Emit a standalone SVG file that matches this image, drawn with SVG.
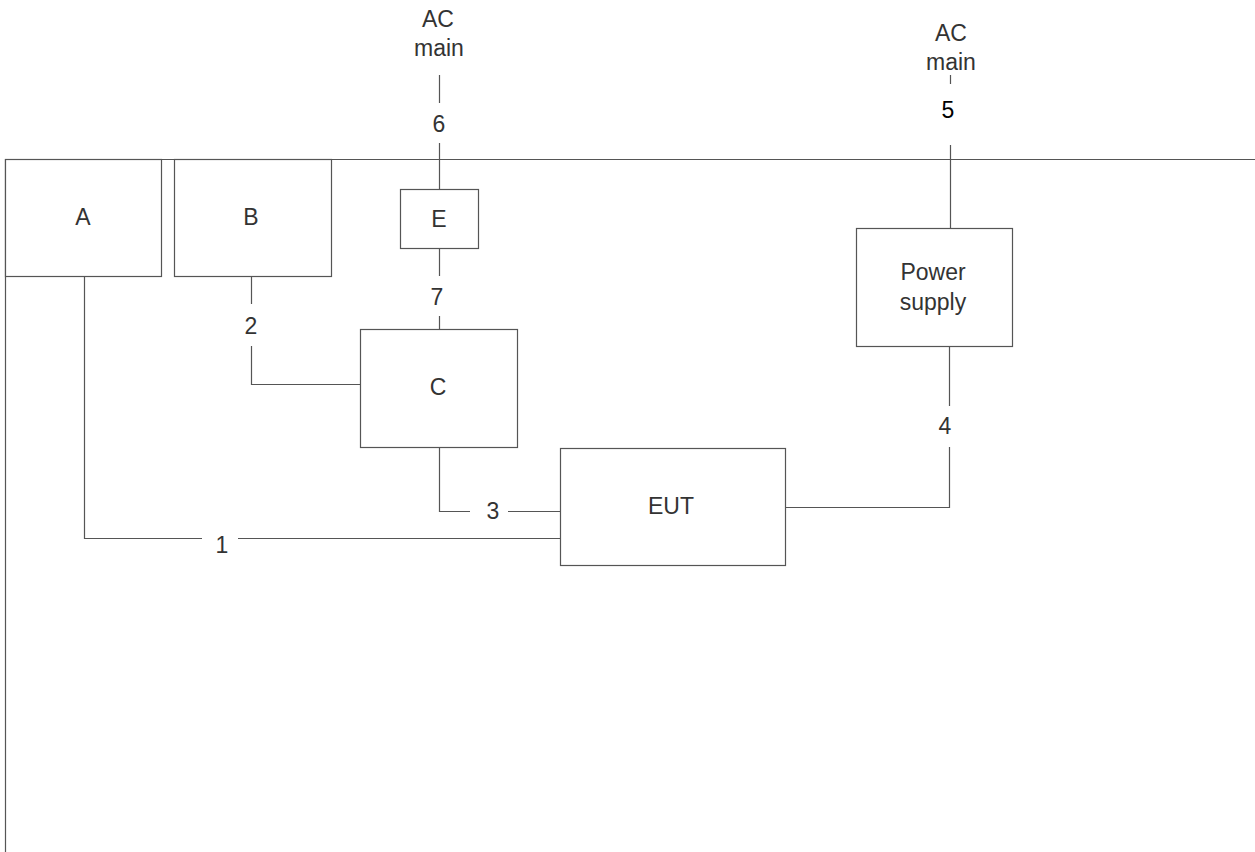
<svg xmlns="http://www.w3.org/2000/svg" width="1255" height="852" viewBox="0 0 1255 852">
<style>
.box{fill:#fff;stroke:#555;stroke-width:1.2}
.ln{fill:none;stroke:#555;stroke-width:1.2}
text{font-family:Arial,"Liberation Sans",Helvetica,sans-serif;font-size:23px;fill:#333;text-anchor:middle;dominant-baseline:central}
</style>
<rect width="1255" height="852" fill="#fff"/>
<g id="frame">
<path class="ln" d="M5.5,852 V159.5 H1255"/>
</g>
<g id="connectors">
<path class="ln" d="M439.5,75 V103 M439.5,143 V189"/>
<path class="ln" d="M439.5,248 V276 M439.5,316 V329"/>
<path class="ln" d="M251.5,276 V304 M251.5,346 V384.5 H360"/>
<path class="ln" d="M439.5,447 V511.5 H470 M508,511.5 H560"/>
<path class="ln" d="M84.5,276 V538.5 H202 M238,538.5 H560"/>
<path class="ln" d="M785,507.5 H949.5 V447 M949.5,406 V346"/>
<path class="ln" d="M950.5,75 V84 M950.5,145 V228"/>
<text x="439" y="124">6</text>
<text x="437" y="297">7</text>
<text x="251" y="326">2</text>
<text x="493" y="511">3</text>
<text x="222" y="545">1</text>
<text x="945" y="426">4</text>
<text x="948" y="110" style="fill:#000">5</text>
</g>
<g id="ac1"><text x="438" y="19">AC</text><text x="439" y="48">main</text></g>
<g id="ac2"><text x="951" y="33">AC</text><text x="951" y="62">main</text></g>
<g id="A"><rect class="box" x="5.5" y="159.5" width="156" height="117"/><text x="83" y="217">A</text></g>
<g id="B"><rect class="box" x="174.5" y="159.5" width="157" height="117"/><text x="251" y="217">B</text></g>
<g id="E"><rect class="box" x="400.5" y="189.5" width="78" height="59"/><text x="439" y="219">E</text></g>
<g id="C"><rect class="box" x="360.5" y="329.5" width="157" height="118"/><text x="438" y="387">C</text></g>
<g id="EUT"><rect class="box" x="560.5" y="448.5" width="225" height="117"/><text x="671" y="506">EUT</text></g>
<g id="PS"><rect class="box" x="856.5" y="228.5" width="156" height="118"/><text x="933" y="272">Power</text><text x="933" y="302">supply</text></g>
</svg>
